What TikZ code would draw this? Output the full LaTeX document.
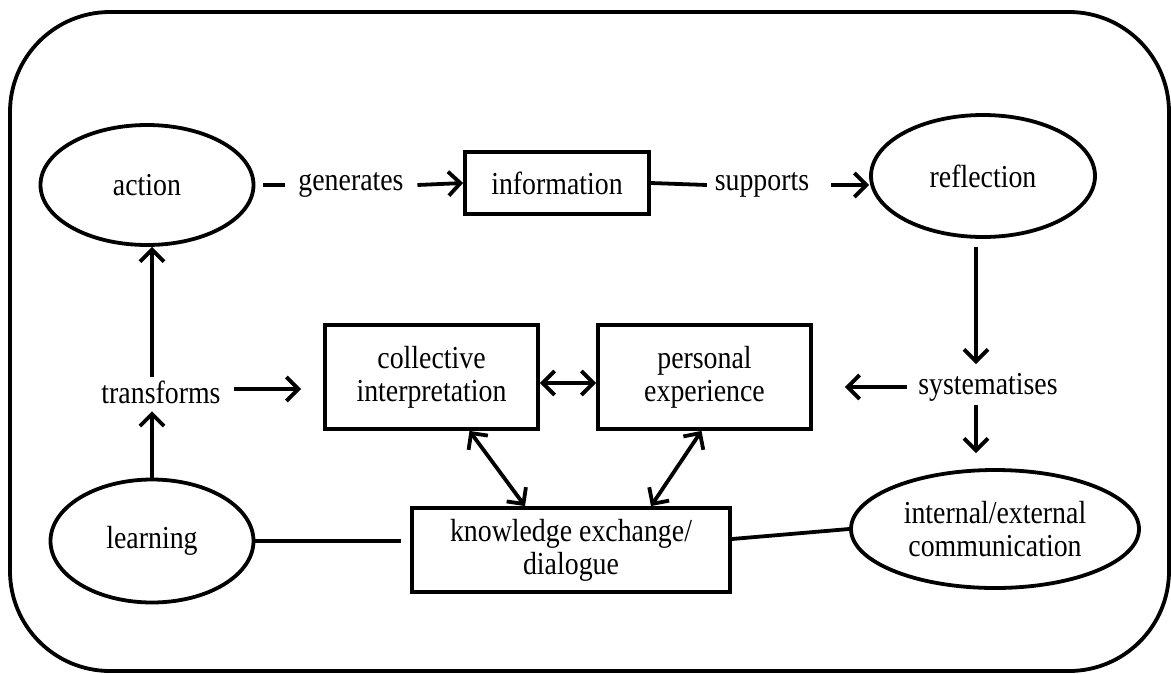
\documentclass[tikz,border=0pt]{standalone}
\usepackage{fontspec}
\setmainfont{Liberation Serif}[FakeStretch=0.87]
\usetikzlibrary{shapes.geometric,arrows.meta}
\tikzset{
  ell/.style={draw, ellipse, inner sep=0pt},
  boxnode/.style={draw, rectangle, inner sep=0pt, align=center},
  lbl/.style={inner xsep=12pt, inner ysep=2pt},
  conn/.style={line width=3.8pt},
  arr/.style={conn, -{Straight Barb[length=12pt,width=24pt]}},
  darr/.style={conn, {Straight Barb[length=12pt,width=24pt]}-{Straight Barb[length=12pt,width=24pt]}},
}
\begin{document}
\begin{tikzpicture}[x=1pt, y=-1pt, line width=3.8pt, font=\fontsize{32}{33}\selectfont]
\useasboundingbox (0,0) rectangle (1171,673);
\draw[rounded corners=100pt] (10,12) rectangle (1169,671);

\node[ell, minimum width=213pt, minimum height=120pt] (action) at (147,185) {action};
\node[lbl] (gen) at (351,185) {generates};
\node[boxnode, minimum width=184pt, minimum height=62pt] (info) at (557,183) {information};
\node[lbl, inner xsep=6pt] (sup) at (762,185) {supports};
\node[ell, minimum width=224pt, minimum height=122pt] (refl) at (983,176) {reflection};

\node[lbl] (trans) at (161,392) {transforms};
\node[boxnode, minimum width=213pt, minimum height=104pt] (coll) at (431.5,377) {collective\\interpretation};
\node[boxnode, minimum width=213pt, minimum height=104pt] (pers) at (704.5,377) {personal\\experience};
\node[lbl, inner xsep=6pt] (sys) at (988,387) {systematises};
\coordinate (sysax) at (976,387);

\node[ell, minimum width=203pt, minimum height=123pt] (learn) at (152,541) {learning};
\node[boxnode, minimum width=318pt, minimum height=84pt] (know) at (571,550) {knowledge exchange/\\dialogue};
\node[ell, minimum width=288pt, minimum height=118pt, align=center] (comm) at (995,529) {internal/external\\communication};

% top row
\draw[conn, shorten <=8pt] (action.east) -- (gen.west);
\draw[arr] (gen.east) -- (info.west);
\draw[conn] (info.east) -- (sup.west);
\draw[arr, shorten <=14pt] (sup.east) -- (sup.east -| refl.west);

% right column
\draw[arr, shorten <=8pt, shorten >=5pt] (refl.south -| sysax) -- (sysax |- sys.north);
\draw[arr, shorten >=15pt] (sysax |- sys.south) -- (sysax |- comm.north);
\draw[arr, shorten <=4pt, shorten >=32pt] (sys.west) -- (sys.west -| pers.east);

% left column
\draw[arr, shorten >=4pt] (learn.north) -- (learn.north |- trans.south);
\draw[arr] (learn.north |- trans.north) -- (learn.north |- action.south);
\draw[arr, shorten >=22pt] ([yshift=3pt]trans.east) -- ([yshift=3pt]trans.east -| coll.west);

% middle
\draw[darr] ([yshift=-6pt]coll.east) -- ([yshift=-6pt]pers.west);
\draw[darr] ([xshift=38pt]coll.south) -- ([xshift=-46pt]know.north);
\draw[darr] ([xshift=-3pt]pers.south) -- ([xshift=80pt]know.north);

% bottom row
\draw[conn, shorten >=9pt] (learn.east) -- (learn.east -| know.west);
\draw[conn] ([yshift=11pt]know.east) -- (comm.west);
\end{tikzpicture}
\end{document}
